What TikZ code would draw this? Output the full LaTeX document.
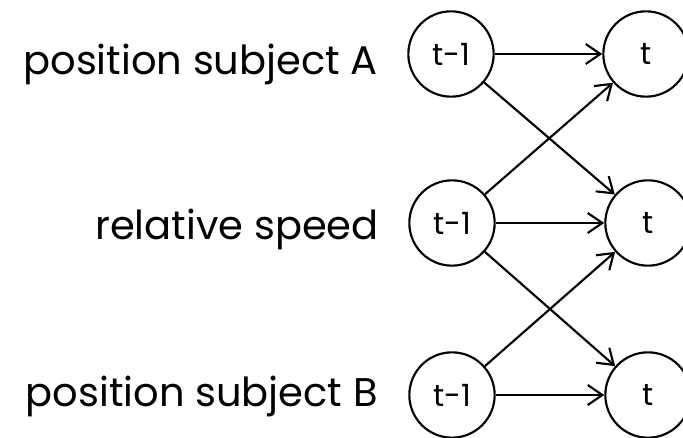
\documentclass[tikz,border=0pt]{standalone}
\usepackage{fontspec}
\setmainfont{Poppins}
\usetikzlibrary{arrows.meta}

\begin{document}
\begin{tikzpicture}[x=1pt, y=1pt,
        state/.style={circle, draw, line width=1.6pt, minimum size=64pt, inner sep=0pt, font=\fontsize{23}{23}\selectfont},
        label/.style={anchor=base east, inner sep=0pt, font=\fontsize{30}{30}\selectfont},
        edge/.style={line width=1.6pt, -{Straight Barb[length=11pt, width=15pt, line width=1.6pt]}}]

        \useasboundingbox (0,0) rectangle (512.25,-328.5);

        % Vertices
        \node[state](prevA) at (338.25,-40.5){t-1};
        \node[state](prevV) at (339,-167.25){t-1};
        \node[state](prevB) at (339,-296.25){t-1};
        \node[state](curA) at (484.5,-40.5){t};
        \node[state](curV) at (486,-167.25){t};
        \node[state](curB) at (486,-296.25){t};
        % Labels
        \node[label](labA) at (283.5,-56.25){position subject A};
        \node[label](labV) at (284.25,-180){relative speed};
        \node[label](labB) at (283.5,-305.25){position subject B};
        % Edges
        \draw[edge](prevA) -- (curA);
        \draw[edge](prevV) -- (curV);
        \draw[edge](prevB) -- (curB);
        \draw[edge](prevA) -- (curV);
        \draw[edge](prevV) -- (curA);
        \draw[edge](prevV) -- (curB);
        \draw[edge](prevB) -- (curV);

\end{tikzpicture}
\end{document}
